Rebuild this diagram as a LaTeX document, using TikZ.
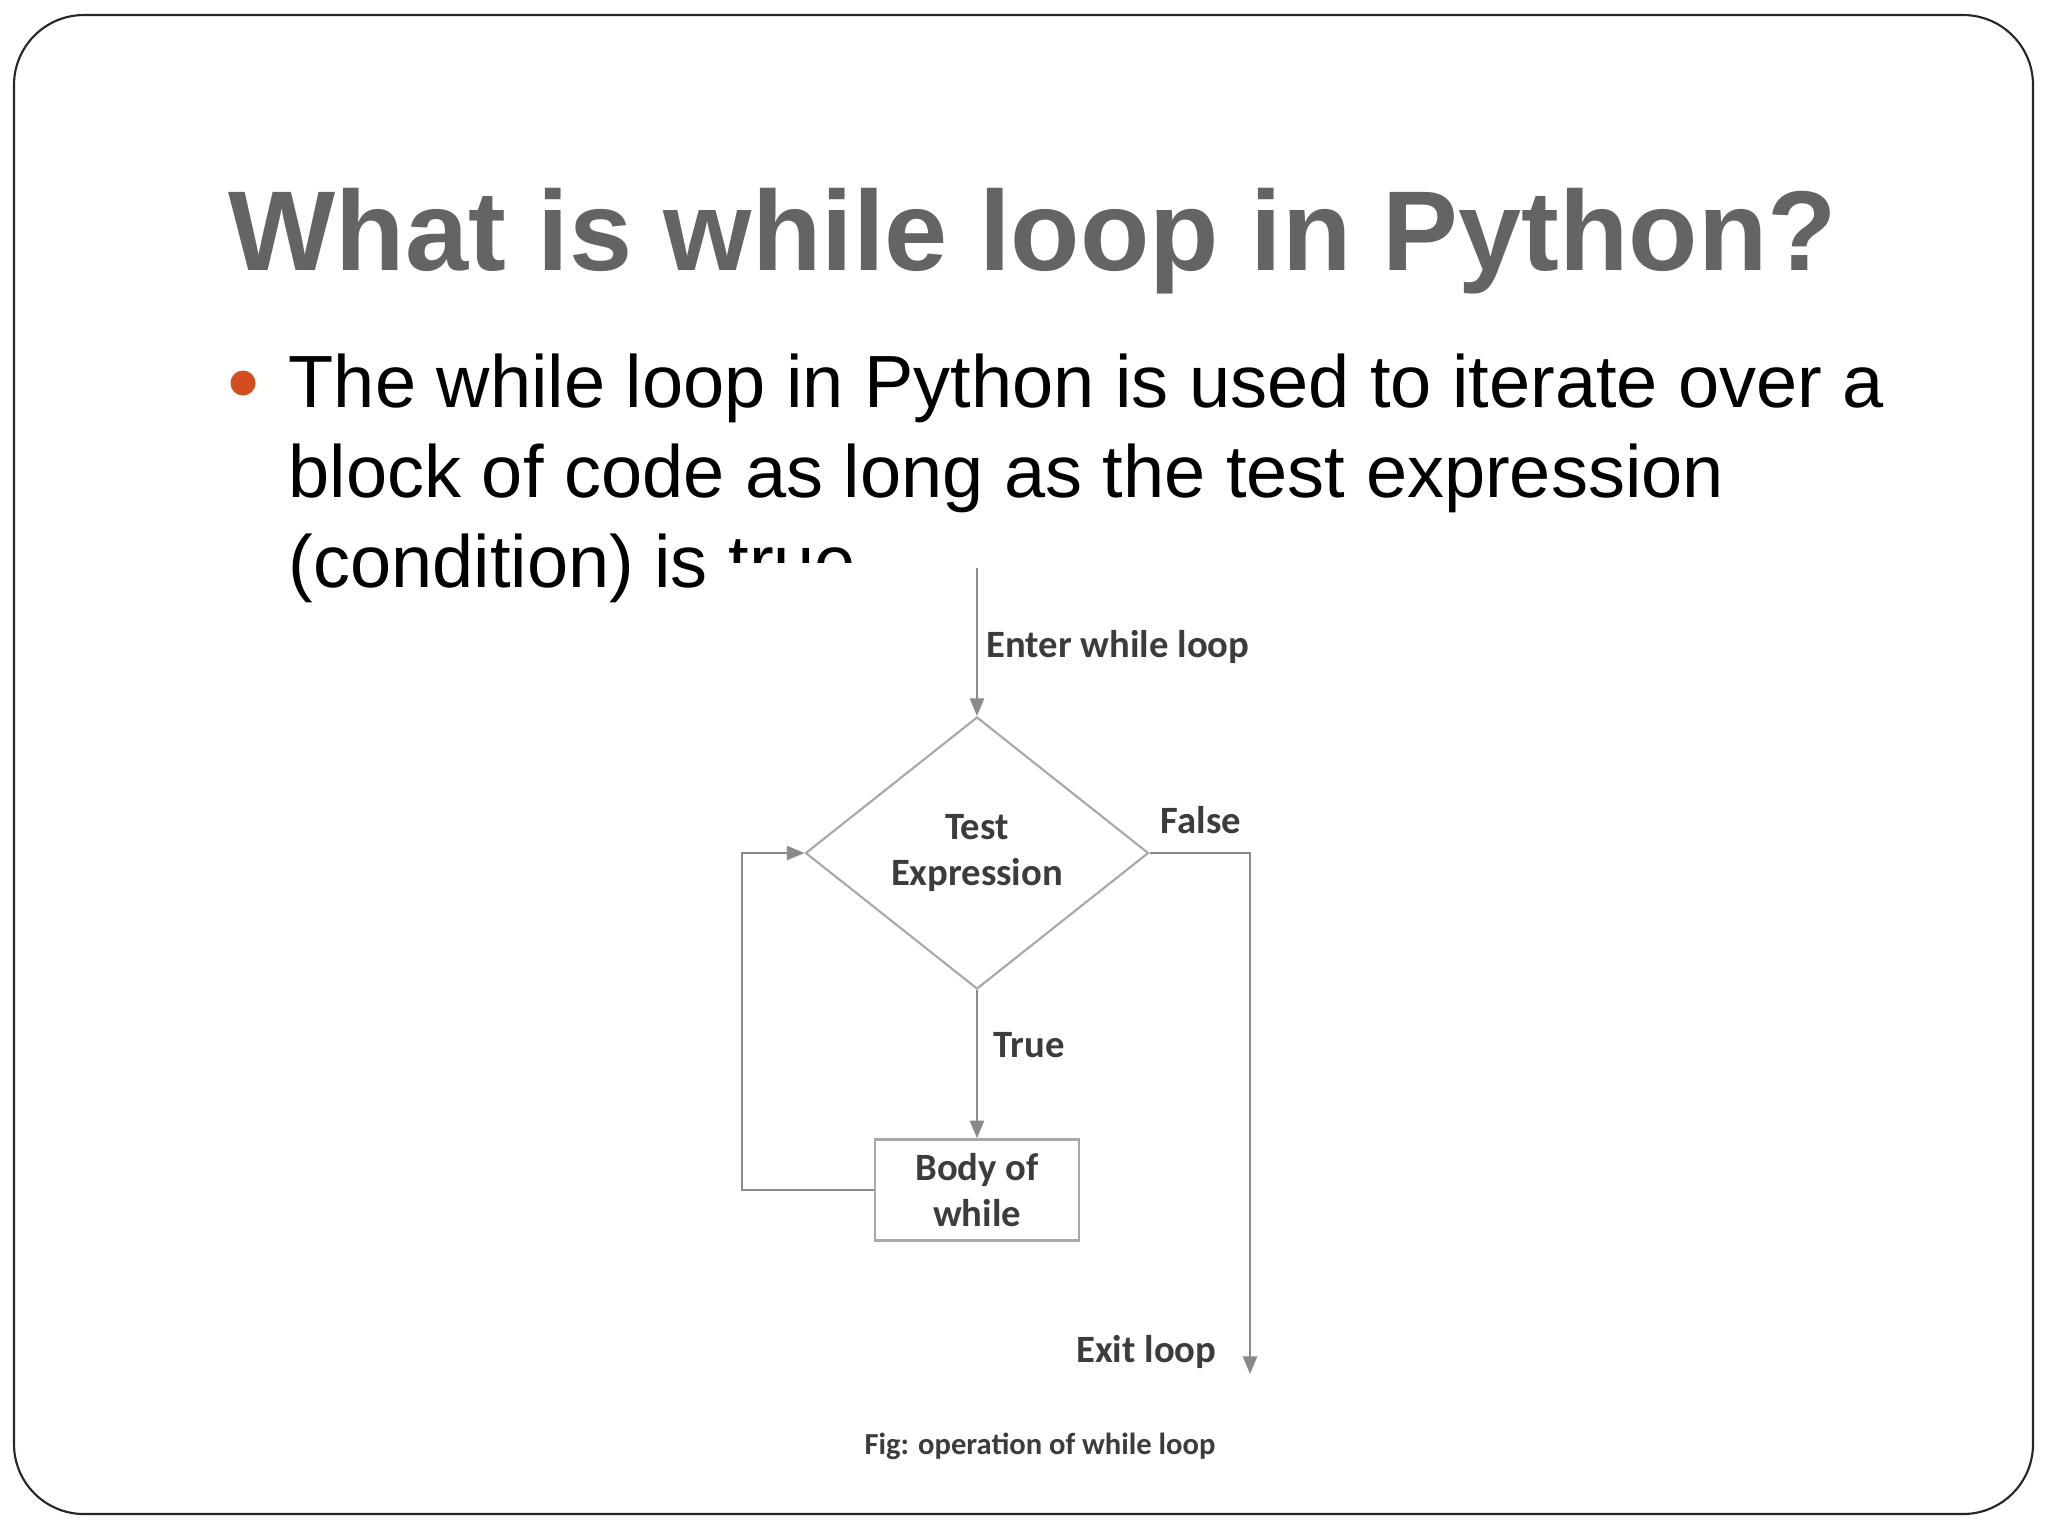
\documentclass[tikz,border=0pt]{standalone}
\usepackage{fontspec}
\setmainfont{Liberation Sans}
\newfontfamily\figfont{Carlito}
\usetikzlibrary{shapes.geometric,arrows.meta}
\definecolor{titlegray}{HTML}{656364}
\definecolor{bulletorange}{HTML}{D24E1E}
\definecolor{figtext}{HTML}{3C3C3C}
\definecolor{flowline}{HTML}{8A8A8A}
\definecolor{shapeline}{HTML}{A8A8A8}

\begin{document}
\begin{tikzpicture}[x=0.1mm,y=-0.1mm]
\tikzstyle{slidetitle}=[anchor=base west,inner sep=0,text=titlegray,font=\fontsize{32.3}{36}\selectfont\bfseries]
\tikzstyle{slidetext}=[anchor=base west,inner sep=0,font=\fontsize{21.05}{25.4}\selectfont]
\tikzstyle{figlbl}=[inner sep=0,text=figtext,font=\figfont\bfseries\fontsize{11}{13.3}\selectfont,align=center]
\tikzstyle{decision}=[figlbl,draw=shapeline,line width=0.6pt,diamond,aspect=1.26,minimum width=34.3mm,minimum height=27.2mm]
\tikzstyle{block}=[figlbl,draw=shapeline,line width=0.7pt,rectangle,minimum width=20.4mm,minimum height=10.1mm]
\tikzstyle{flow}=[draw=flowline,line width=0.6pt,-{Triangle[length=5pt,width=4pt]}]
% slide
\useasboundingbox (0,0) rectangle (2048,1536);
\fill[white] (0,0) rectangle (2048,1536);
\draw[line width=0.6pt,black!85,rounded corners=7mm] (14,15) rectangle (2033,1514);
\node[slidetitle] (title) at (228,270) {What is while loop in Python?};
\fill[bulletorange] (243,383) circle (12.5);
\node[slidetext] (line1) at (288,407) {The while loop in Python is used to iterate over a};
\node[slidetext] (line2) at (288,497) {block of code as long as the test expression};
\node[slidetext] (line3) at (288,587) {(condition) is true};
% pasted figure hides the end of the sentence
\fill[white] (732,563) rectangle (920,625);
% flow chart
\coordinate (enter) at (977,568);
\node[decision] (test) at (977,853) {Test\\Expression};
\node[block] (body) at (977,1190) {Body of\\while};
\coordinate (exit) at (1250,1374);
\coordinate (back) at (742,1190);
\draw[flow] (enter) -- (test.north);
\draw[flow] (test.south) -- (body.north);
\draw[flow] (test.east) -| (exit);
\draw[flow] (body.west) -- (back) |- (test.west);
\node[figlbl,anchor=west] (enterlbl) at (986,647) {Enter while loop};
\node[figlbl,anchor=west] (falselbl) at (1160,820) {False};
\node[figlbl,anchor=west] (truelbl) at (993,1045) {True};
\node[figlbl,anchor=east] (exitlbl) at (1217,1352) {Exit loop};
\node[figlbl,font=\figfont\bfseries\fontsize{8.7}{10}\selectfont] (caption) at (1040,1446) {Fig: operation of while loop};
\end{tikzpicture}
\end{document}
